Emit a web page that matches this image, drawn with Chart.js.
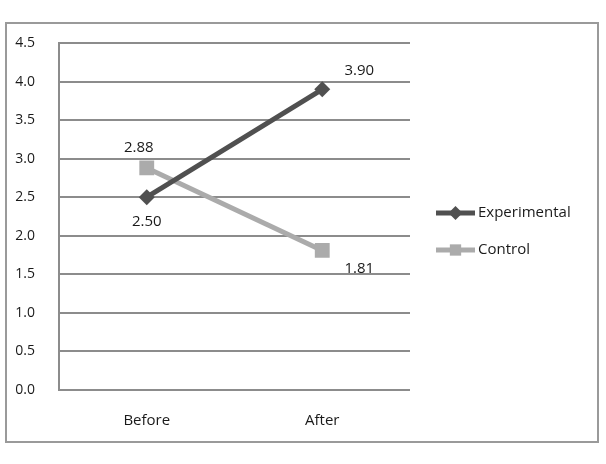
<!DOCTYPE html>
<html>
<head>
<meta charset="utf-8">
<script src="https://cdn.jsdelivr.net/npm/chart.js@4/dist/chart.umd.min.js"></script>
<style>
  html, body { margin: 0; padding: 0; background: #fff; }
  #wrap { width: 606px; height: 464px; }
</style>
</head>
<body>
<div id="wrap"><canvas id="chart" width="606" height="464"></canvas></div>
<script>
const categories = ['Before', 'After'];
const experimental = [2.50, 3.90];
const control = [2.88, 1.81];
const yTicks = [0, 0.5, 1, 1.5, 2, 2.5, 3, 3.5, 4, 4.5];

const FONT = '"Open Sans", sans-serif';
const TEXT = '#1a1a1a';
const GRID = '#8c8c8c';

// frame round the whole chart
const framePlugin = {
    id: 'frame',
    beforeDraw(chart) {
        const c = chart.ctx;
        c.save();
        c.strokeStyle = '#9a9a9a';
        c.lineWidth = 2;
        c.strokeRect(6, 23, 592, 419);
        c.restore();
    }
};

// value labels next to each point
const valueLabels = {
    id: 'valueLabels',
    afterDatasetsDraw(chart, args, opts) {
        const c = chart.ctx;
        c.save();
        c.font = '15px ' + FONT;
        c.fillStyle = TEXT;
        c.textAlign = 'center';
        c.textBaseline = 'middle';
        chart.data.datasets.forEach((ds, i) => {
            const meta = chart.getDatasetMeta(i);
            meta.data.forEach((pt, j) => {
                const off = opts.offsets[i][j];
                c.fillText(ds.data[j].toFixed(2), pt.x + off[0], pt.y + off[1]);
            });
        });
        c.restore();
    }
};

// legend drawn as line + marker like the original
const lineLegend = {
    id: 'lineLegend',
    afterDraw(chart) {
        const c = chart.ctx;
        c.save();
        c.font = '15px ' + FONT;
        c.textBaseline = 'middle';
        const x0 = 436, x1 = 475;
        const rows = [213, 250];
        chart.data.datasets.forEach((ds, i) => {
            const y = rows[i];
            c.strokeStyle = ds.borderColor;
            c.lineWidth = ds.borderWidth;
            c.beginPath();
            c.moveTo(x0, y);
            c.lineTo(x1, y);
            c.stroke();
            c.fillStyle = ds.borderColor;
            Chart.helpers.drawPoint(c, {
                pointStyle: ds.pointStyle,
                radius: i === 0 ? 7 : 8,
                borderWidth: 0
            }, (x0 + x1) / 2, y);
            c.fillStyle = TEXT;
            c.fillText(ds.label, 478, y);
        });
        c.restore();
    }
};

const ctx = document.getElementById('chart').getContext('2d');

new Chart(ctx, {
    type: 'line',
    data: {
        labels: categories,
        datasets: [
            {
                label: 'Experimental',
                data: experimental,
                borderColor: '#505050',
                backgroundColor: '#505050',
                borderWidth: 5,
                pointStyle: 'rectRot',
                pointRadius: 8,
                pointBorderWidth: 0,
                fill: false
            },
            {
                label: 'Control',
                data: control,
                borderColor: '#ababab',
                backgroundColor: '#ababab',
                borderWidth: 5,
                pointStyle: 'rect',
                pointRadius: 10.5,
                pointBorderWidth: 0,
                fill: false
            }
        ]
    },
    options: {
        responsive: false,
        animation: false,
        layout: { padding: { left: 5, right: 196, top: 43, bottom: 30 } },
        plugins: {
            legend: { display: false },
            tooltip: { enabled: false },
            valueLabels: {
                offsets: [
                    [[0, 25], [37, -19]],
                    [[-8, -20], [37, 18]]
                ]
            }
        },
        scales: {
            x: {
                offset: true,
                grid: { display: false },
                border: { display: false },
                ticks: { color: TEXT, font: { family: FONT, size: 15 }, padding: 14 },
                afterFit(scale) { scale.height = 44; }
            },
            y: {
                min: 0,
                max: 4.5,
                afterBuildTicks(scale) { scale.ticks = yTicks.map(v => ({ value: v })); },
                grid: { color: GRID, lineWidth: 2, drawTicks: false },
                border: { color: GRID, width: 2 },
                ticks: {
                    color: TEXT,
                    font: { family: FONT, size: 14 },
                    padding: 24,
                    callback: v => v.toFixed(1)
                },
                afterFit(scale) { scale.width = 54; }
            }
        }
    },
    plugins: [framePlugin, valueLabels, lineLegend]
});
</script>
</body>
</html>
